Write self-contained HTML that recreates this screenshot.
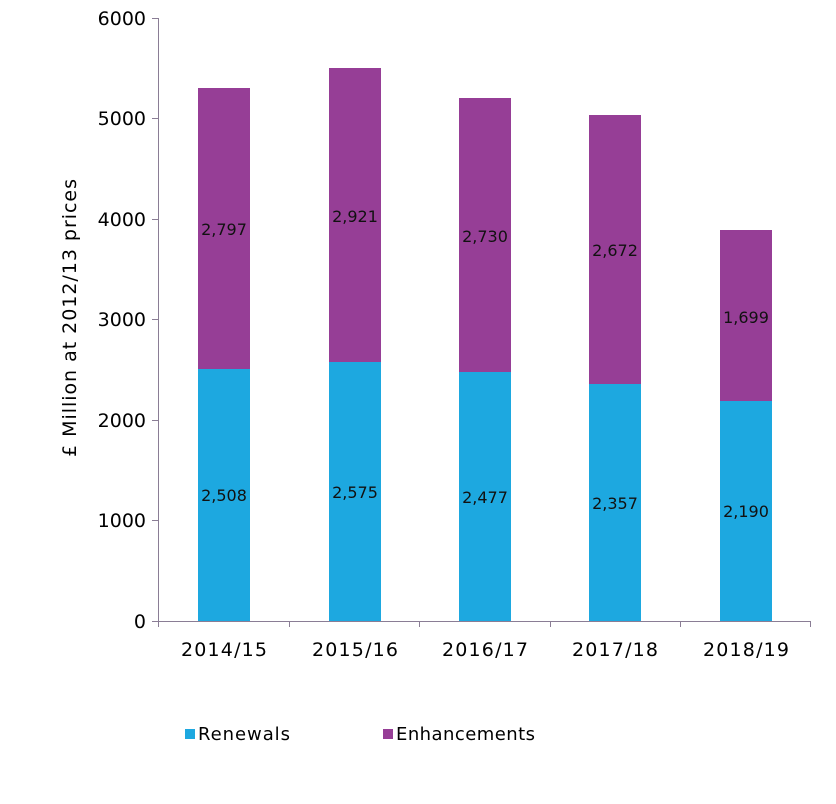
<!DOCTYPE html>
<html><head><meta charset="utf-8"><style>
body{margin:0;background:#fff;}
svg text{font-family:"DejaVu Sans","Liberation Sans",sans-serif;}
</style></head><body>
<svg width="836" height="799" xmlns="http://www.w3.org/2000/svg">
<g fill="#1DA8E0">
<rect x="198" y="369" width="52" height="252"/>
<rect x="329" y="362" width="52" height="259"/>
<rect x="459" y="372" width="52" height="249"/>
<rect x="589" y="384" width="52" height="237"/>
<rect x="720" y="401" width="52" height="220"/>
</g>
<g fill="#963E96">
<rect x="198" y="88" width="52" height="281"/>
<rect x="329" y="68" width="52" height="294"/>
<rect x="459" y="98" width="52" height="274"/>
<rect x="589" y="115" width="52" height="269"/>
<rect x="720" y="230" width="52" height="171"/>
</g>
<g stroke="#8a7d95" stroke-width="1" fill="none">
<line x1="158.5" y1="18" x2="158.5" y2="621"/>
<line x1="158" y1="621.5" x2="811" y2="621.5"/>
<line x1="152" y1="18.5" x2="158" y2="18.5"/>
<line x1="152" y1="118.5" x2="158" y2="118.5"/>
<line x1="152" y1="219.5" x2="158" y2="219.5"/>
<line x1="152" y1="319.5" x2="158" y2="319.5"/>
<line x1="152" y1="420.5" x2="158" y2="420.5"/>
<line x1="152" y1="520.5" x2="158" y2="520.5"/>
<line x1="152" y1="621.5" x2="158" y2="621.5"/>
<line x1="158.5" y1="621" x2="158.5" y2="627"/>
<line x1="289.5" y1="621" x2="289.5" y2="627"/>
<line x1="419.5" y1="621" x2="419.5" y2="627"/>
<line x1="550.5" y1="621" x2="550.5" y2="627"/>
<line x1="680.5" y1="621" x2="680.5" y2="627"/>
<line x1="810.5" y1="621" x2="810.5" y2="627"/>
</g>
<g font-size="19" fill="#000" text-anchor="end">
<text x="146" y="25">6000</text>
<text x="146" y="125">5000</text>
<text x="146" y="226">4000</text>
<text x="146" y="326">3000</text>
<text x="146" y="427">2000</text>
<text x="146" y="527">1000</text>
<text x="146" y="628">0</text>
</g>
<g font-size="19" fill="#000" text-anchor="middle">
<text x="224" y="656" textLength="86">2014/15</text>
<text x="355" y="656" textLength="86">2015/16</text>
<text x="485" y="656" textLength="86">2016/17</text>
<text x="615" y="656" textLength="86">2017/18</text>
<text x="746" y="656" textLength="86">2018/19</text>
</g>
<text transform="translate(76,318) rotate(-90)" font-size="19" text-anchor="middle" textLength="278" fill="#000">£ Million at 2012/13 prices</text>
<g font-size="16" fill="#111" text-anchor="middle">
<text x="224" y="235">2,797</text>
<text x="355" y="222">2,921</text>
<text x="485" y="242">2,730</text>
<text x="615" y="256">2,672</text>
<text x="746" y="323">1,699</text>
<text x="224" y="501">2,508</text>
<text x="355" y="498">2,575</text>
<text x="485" y="503">2,477</text>
<text x="615" y="509">2,357</text>
<text x="746" y="517">2,190</text>
</g>
<rect x="185" y="729" width="10" height="10" fill="#1DA8E0"/>
<text x="198" y="740" font-size="18" fill="#000" textLength="92">Renewals</text>
<rect x="383" y="729" width="10" height="10" fill="#963E96"/>
<text x="396" y="740" font-size="18" fill="#000" textLength="139">Enhancements</text>
</svg>
</body></html>
